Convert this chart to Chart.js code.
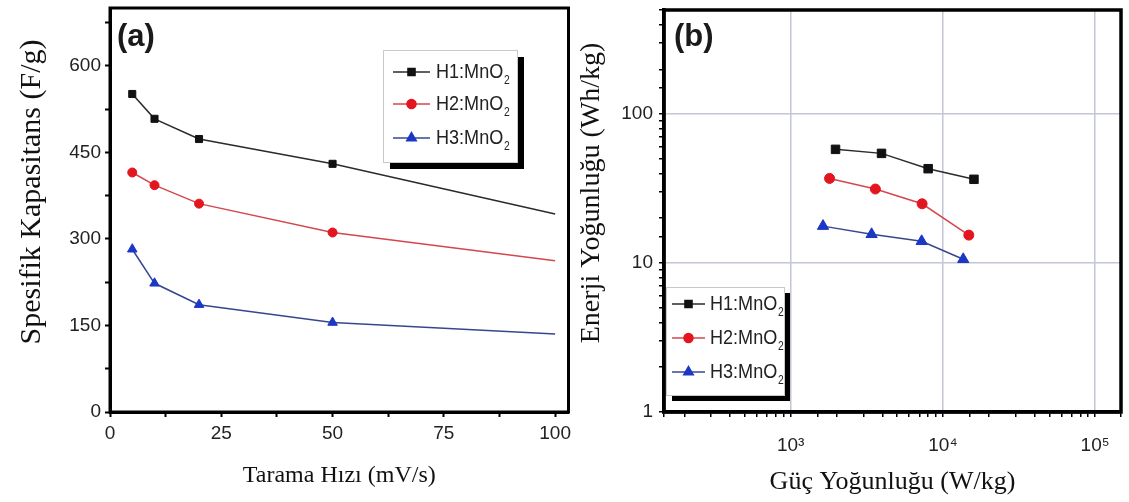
<!DOCTYPE html>
<html>
<head>
<meta charset="utf-8">
<script src="https://cdn.jsdelivr.net/npm/chart.js@4.4.1/dist/chart.umd.min.js"></script>
<style>
  html, body { margin: 0; padding: 0; background: #fff; }
  #wrap { position: relative; width: 1129px; height: 502px; overflow: hidden; }
  canvas { position: absolute; top: 0; }
  #rateChart { left: 0; }
  #ragoneChart { left: 575px; }
</style>
</head>
<body>
<div id="wrap">
  <canvas id="rateChart" width="575" height="502"></canvas>
  <canvas id="ragoneChart" width="554" height="502"></canvas>
</div>
<script>
// (a) specific capacitance against scan rate
const scanRates = [5, 10, 20, 50, 100];
const capH1 = [551, 508, 473, 430, 343];
const capH2 = [415, 393, 361, 311, 262];
const capH3 = [282, 223, 186, 155, 135];

// (b) Ragone plot: power density (W/kg) vs energy density (Wh/kg)
const powerH1 = [1970, 3950, 8000, 16000];
const energyH1 = [58, 54.5, 43, 36.5];
const powerH2 = [1800, 3600, 7300, 14800];
const energyH2 = [37, 31.4, 25, 15.4];
const powerH3 = [1630, 3400, 7250, 13600];
const energyH3 = [17.7, 15.6, 14, 10.6];

const seriesNames = ['H1:MnO₂', 'H2:MnO₂', 'H3:MnO₂'];
const capTicks = [0, 150, 300, 450, 600];
const rateTicks = [0, 25, 50, 75, 100];
const decadeLabels = { 1: '1', 10: '10', 100: '100', 1000: '10³', 10000: '10⁴', 100000: '10⁵' };

const markerColors = ['#111111', '#e3151f', '#1b37c6'];
const lineColors = ['#2b2b2b', '#d4474d', '#37478f'];
const pointStyles = ['rect', 'circle', 'triangle'];

const SANS = '"Liberation Sans", Arial, sans-serif';
const SERIF = '"Liberation Serif", "Times New Roman", serif';

Chart.defaults.font.family = SANS;
Chart.defaults.color = '#222';

function makeSeries(i, xs, ys, radius) {
    return {
        label: seriesNames[i],
        data: xs.map((x, k) => ({ x: x, y: ys[k] })),
        borderColor: lineColors[i],
        borderWidth: 1.5,
        pointStyle: pointStyles[i],
        pointBackgroundColor: markerColors[i],
        pointBorderColor: markerColors[i],
        pointBorderWidth: 1,
        // the 100 mV/s end of each curve carries no marker
        pointRadius: ctx => (ctx.raw && ctx.raw.x === 100) ? 0 : radius[i],
        tension: 0
    };
}

function isDecade(v) {
    const l = Math.log10(v);
    return Math.abs(l - Math.round(l)) < 1e-9;
}

function drawMarker(ctx, style, r, x, y) {
    if (Chart.helpers && Chart.helpers.drawPoint) {
        Chart.helpers.drawPoint(ctx, { pointStyle: style, radius: r, rotation: 0, borderWidth: 1 }, x, y);
        return;
    }
    ctx.beginPath();
    ctx.arc(x, y, r, 0, Math.PI * 2);
    ctx.fill();
}

// boxed legend with a drop shadow, MnO2 written with a real subscript
function drawLegend(chart, box) {
    const ctx = chart.ctx;
    ctx.save();
    ctx.fillStyle = '#000';
    ctx.fillRect(box.x + box.shadow, box.y + box.shadow, box.w, box.h);
    ctx.fillStyle = '#fff';
    ctx.fillRect(box.x, box.y, box.w, box.h);
    ctx.strokeStyle = '#c9c9c9';
    ctx.lineWidth = 1;
    ctx.strokeRect(box.x + 0.5, box.y + 0.5, box.w, box.h);

    chart.data.datasets.forEach((ds, i) => {
        const y = box.y + box.rows[i];
        const x0 = box.x + box.line[0];
        const x1 = box.x + box.line[1];
        ctx.strokeStyle = ds.borderColor;
        ctx.lineWidth = 1.5;
        ctx.beginPath();
        ctx.moveTo(x0, y);
        ctx.lineTo(x1, y);
        ctx.stroke();
        ctx.fillStyle = ds.pointBackgroundColor;
        ctx.strokeStyle = ds.pointBorderColor;
        drawMarker(ctx, ds.pointStyle, box.marker[i], (x0 + x1) / 2, y);

        const base = ds.label.replace('₂', '');
        ctx.save();
        ctx.translate(box.x + box.textX, y);
        ctx.scale(0.86, 1);
        ctx.fillStyle = '#222';
        ctx.textAlign = 'left';
        ctx.textBaseline = 'middle';
        ctx.font = '21px ' + SANS;
        ctx.fillText(base, 0, 0);
        const w = ctx.measureText(base).width;
        ctx.font = '12px ' + SANS;
        ctx.fillText('2', w + 1, 9);
        ctx.restore();
    });
    ctx.restore();
}

const panelDecor = {
    id: 'panelDecor',
    afterDraw(chart, args, opts) {
        const { ctx, chartArea: a } = chart;
        ctx.save();
        ctx.strokeStyle = '#000';
        ctx.lineWidth = opts.frameWidth;
        ctx.strokeRect(a.left, a.top, a.right - a.left, a.bottom - a.top);

        ctx.fillStyle = '#1a1a1a';
        ctx.font = 'bold 31px ' + SANS;
        ctx.textAlign = 'left';
        ctx.textBaseline = 'middle';
        ctx.fillText(opts.letter, a.left + opts.letterDx, opts.letterY);

        ctx.translate(opts.yTitleX, opts.yTitleY);
        ctx.rotate(-Math.PI / 2);
        ctx.font = opts.yTitleSize + 'px ' + SERIF;
        ctx.fillStyle = '#111';
        ctx.textAlign = 'center';
        ctx.fillText(opts.yTitle, 0, 0);
        ctx.restore();

        drawLegend(chart, opts.legend);
    }
};

const tickFont = { family: SANS, size: 19 };

// panel (a)
new Chart(document.getElementById('rateChart'), {
    type: 'line',
    data: {
        datasets: [
            makeSeries(0, scanRates, capH1, [5, 4.5, 5.5]),
            makeSeries(1, scanRates, capH2, [5, 4.5, 5.5]),
            makeSeries(2, scanRates, capH3, [5, 4.5, 5.5])
        ]
    },
    options: {
        responsive: false,
        animation: false,
        devicePixelRatio: 1,
        layout: { padding: { top: 8, right: 4, left: 0, bottom: 0 } },
        plugins: {
            legend: { display: false },
            tooltip: { enabled: false },
            panelDecor: {
                frameWidth: 3,
                letter: '(a)', letterDx: 7, letterY: 37,
                yTitle: 'Spesifik Kapasitans (F/g)', yTitleX: 32, yTitleY: 192, yTitleSize: 30,
                legend: { x: 383, y: 50, w: 134, h: 112, shadow: 7,
                          rows: [22, 54, 88], line: [10, 47], textX: 53, marker: [5, 4.5, 5.5] }
            }
        },
        scales: {
            x: {
                type: 'linear', min: 0, max: 103,
                afterBuildTicks: s => { s.ticks = s.ticks.filter(t => t.value <= 100); },
                afterFit: s => { s.height = 90; s.paddingLeft = 0; s.paddingRight = 0; },
                ticks: {
                    stepSize: 12.5, includeBounds: false, autoSkip: false, maxRotation: 0, padding: 5,
                    font: tickFont, color: '#222',
                    callback: v => rateTicks.includes(v) ? String(v) : ''
                },
                grid: { drawOnChartArea: false, tickLength: 5, tickColor: '#000', tickWidth: 2 },
                border: { color: '#000', width: 3 },
                title: { display: true, text: 'Tarama Hızı (mV/s)', font: { family: SERIF, size: 24 }, color: '#111',
                         padding: { top: 0, bottom: 12 } }
            },
            y: {
                min: 0, max: 700,
                afterFit: s => { s.width = 110; s.paddingTop = 0; s.paddingBottom = 0; },
                ticks: {
                    stepSize: 75, includeBounds: false, autoSkip: false, padding: 4, font: tickFont, color: '#222',
                    callback: v => capTicks.includes(v) ? String(v) : ''
                },
                grid: { drawOnChartArea: false, tickLength: 5, tickColor: '#000', tickWidth: 2 },
                border: { color: '#000', width: 3 }
            }
        }
    },
    plugins: [panelDecor]
});

// panel (b)
const gridBlue = '#c3c6d3';
new Chart(document.getElementById('ragoneChart'), {
    type: 'line',
    data: {
        datasets: [
            makeSeries(0, powerH1, energyH1, [6, 5, 6.5]),
            makeSeries(1, powerH2, energyH2, [6, 5, 6.5]),
            makeSeries(2, powerH3, energyH3, [6, 5, 6.5])
        ]
    },
    options: {
        responsive: false,
        animation: false,
        devicePixelRatio: 1,
        layout: { padding: { top: 10, right: 8, left: 0, bottom: 0 } },
        plugins: {
            legend: { display: false },
            tooltip: { enabled: false },
            panelDecor: {
                frameWidth: 3.5,
                letter: '(b)', letterDx: 10, letterY: 37,
                yTitle: 'Enerji Yoğunluğu (Wh/kg)', yTitleX: 17, yTitleY: 193, yTitleSize: 28,
                legend: { x: 91, y: 287, w: 118, h: 108, shadow: 6,
                          rows: [17, 51, 85], line: [6, 39], textX: 44, marker: [5, 4.5, 5.5] }
            }
        },
        scales: {
            x: {
                type: 'logarithmic', min: 147, max: 148000,
                afterFit: s => { s.height = 90; s.paddingLeft = 0; s.paddingRight = 0; },
                ticks: {
                    autoSkip: false, maxRotation: 0, padding: 17, font: tickFont, color: '#222',
                    callback: v => decadeLabels[v] || ''
                },
                grid: {
                    color: c => (c.tick && isDecade(c.tick.value)) ? gridBlue : 'rgba(0,0,0,0)',
                    lineWidth: 1.5, tickLength: 5, tickColor: '#000', tickWidth: 1.5
                },
                border: { color: '#000', width: 3.5 },
                title: { display: true, text: 'Güç Yoğunluğu (W/kg)', font: { family: SERIF, size: 26 }, color: '#111',
                         padding: { top: 0, bottom: 4 } }
            },
            y: {
                type: 'logarithmic', min: 1, max: 500,
                afterFit: s => { s.width = 89; s.paddingTop = 0; s.paddingBottom = 0; },
                ticks: {
                    autoSkip: false, padding: 6, font: tickFont, color: '#222',
                    callback: v => decadeLabels[v] || ''
                },
                grid: {
                    color: c => (c.tick && isDecade(c.tick.value)) ? gridBlue : 'rgba(0,0,0,0)',
                    lineWidth: 1.5, tickLength: 5, tickColor: '#000', tickWidth: 1.5
                },
                border: { color: '#000', width: 3.5 }
            }
        }
    },
    plugins: [panelDecor]
});
</script>
</body>
</html>
